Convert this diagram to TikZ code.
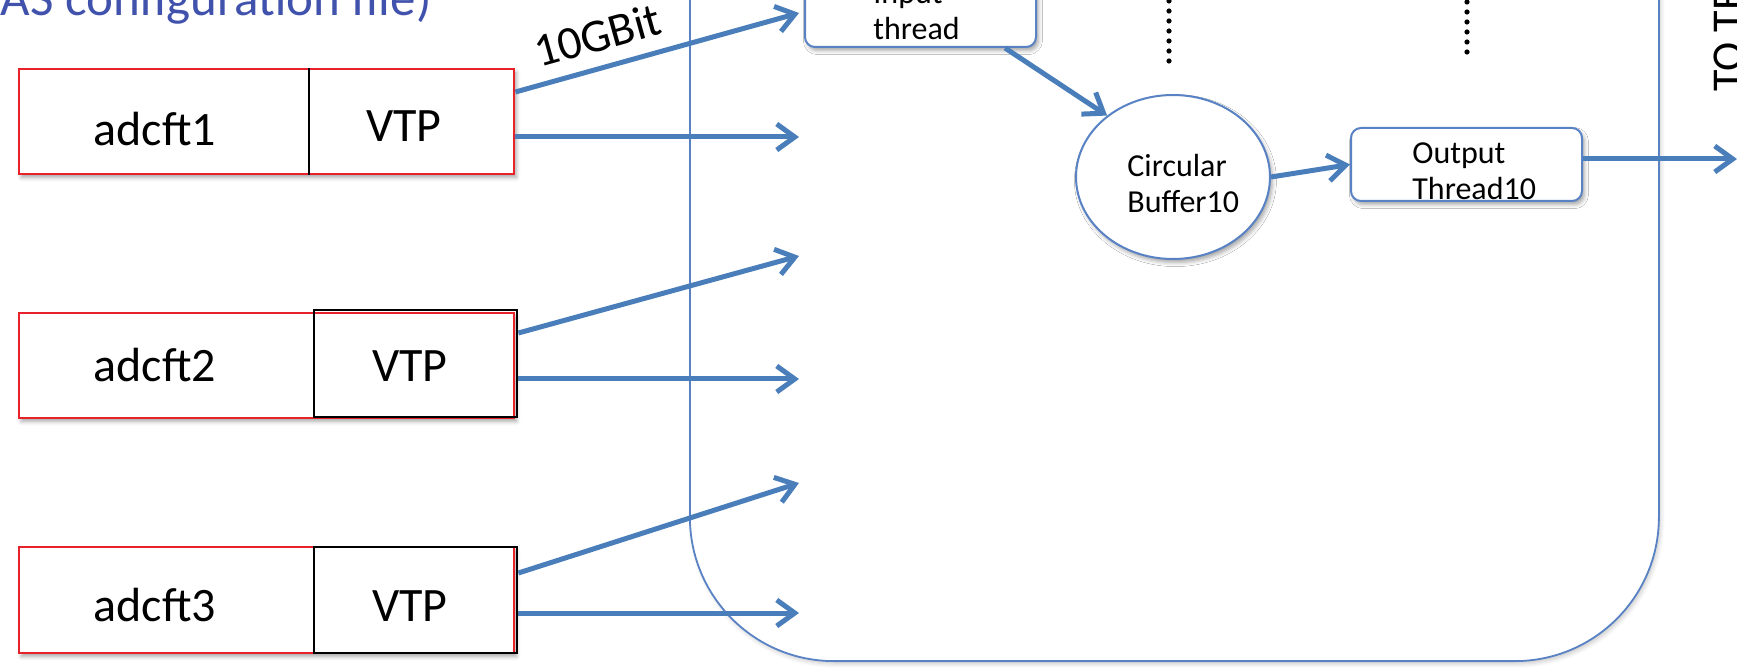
\documentclass[tikz,border=0pt]{standalone}
\usepackage{fontspec}
\setmainfont{Carlito}
\usetikzlibrary{arrows.meta,shapes.geometric,shadows.blur}

\definecolor{flow}{RGB}{74,126,187}
\definecolor{frame}{RGB}{88,130,196}
\definecolor{cfgblue}{RGB}{64,82,172}
\definecolor{boardred}{RGB}{232,34,42}

\begin{document}
\begin{tikzpicture}[x=0.5pt,y=-0.5pt,
  soft/.style={blur shadow={shadow xshift=1.2pt,shadow yshift=-1.8pt,
      shadow blur radius=2pt,shadow opacity=35}},
  flowarrow/.style={draw=flow,line width=2.5pt,
      -{Straight Barb[length=9pt,width=13pt]}},
  board/.style={draw=boardred,line width=0.9pt,fill=white,soft,
      minimum width=247.5pt,anchor=north west,inner sep=0pt},
  vtpbox/.style={line width=1.2pt,minimum width=101.5pt,
      anchor=north west,inner sep=0pt},
  thread/.style={draw=frame,line width=1pt,fill=white,soft,
      rounded corners=5pt,minimum width=115.5pt,inner sep=0pt},
  big/.style={font=\fontsize{24}{28}\selectfont,inner sep=0pt},
  small/.style={font=\fontsize{16}{18}\selectfont,align=left,inner sep=0pt},
  dotline/.style={line width=2.6pt,line cap=round,dash pattern=on 0pt off 5pt}
]
\useasboundingbox (0,0) rectangle (1737,668);
\clip (0,0) rectangle (1737,668);

% receiving host
\node[draw=frame,line width=0.9pt,rounded corners=72pt,fill=white,
      blur shadow={shadow xshift=1pt,shadow yshift=-1.5pt,
      shadow blur radius=2pt,shadow opacity=20},
      minimum width=484.5pt,minimum height=481pt,inner sep=0pt,
      anchor=south west] (host) at (689,662) {};

% configuration caption
\node[anchor=base east,text=cfgblue,font=\fontsize{25.5}{30}\selectfont,
      inner sep=0pt] (cfg) at (432,16) {AS configuration file)};

% front-end boards
\node[board,minimum height=52.5pt] (adc1) at (18,68) {};
\node[vtpbox,minimum width=102pt,minimum height=52.5pt] (vtp1) at (309,68) {};
\draw[black,line width=1pt] (vtp1.north west) -- (vtp1.south west);

\node[board,minimum height=52.5pt] (adc2) at (18,312) {};
\node[vtpbox,draw=black,minimum height=53.5pt] (vtp2) at (313,309) {};

\node[board,minimum height=53pt] (adc3) at (18,546) {};
\node[vtpbox,draw=black,minimum height=53pt] (vtp3) at (313,546) {};

\node[big,anchor=base] (l1) at (155,146) {adcft1};
\node[big,anchor=base] (p1) at (404,142) {VTP};
\node[big,anchor=base] (l2) at (155,382) {adcft2};
\node[big,anchor=base] (p2) at (410,382) {VTP};
\node[big,anchor=base] (l3) at (155,621) {adcft3};
\node[big,anchor=base] (p3) at (410,621) {VTP};

% arrow tips inside the host
\coordinate (t1u) at (799,13);
\coordinate (t1d) at (799,137);
\coordinate (t2u) at (799,256);
\coordinate (t2d) at (799,379);
\coordinate (t3u) at (799,483);
\coordinate (t3d) at (799,613);

\draw[flowarrow] (vtp1.east |- 0,92) -- (t1u)
  node[pos=0.32,above=5pt,sloped,font=\fontsize{23.5}{28}\selectfont,
       inner sep=2pt] (rate) {10GBit};
\draw[flowarrow] (vtp1.east |- 0,137) -- (t1d);
\draw[flowarrow] (vtp2.east |- 0,333) -- (t2u);
\draw[flowarrow] (vtp2.east |- 0,379) -- (t2d);
\draw[flowarrow] (vtp3.east |- 0,573) -- (t3u);
\draw[flowarrow] (vtp3.east |- 0,613) -- (t3d);

% processing chain
\node[thread,minimum height=37.5pt,anchor=south west] (inp) at (804,48) {};
\node[small,anchor=west] (inplbl) at (873,11) {Input\\thread};

\node[draw=frame,line width=1pt,ellipse,fill=white,soft,
      minimum width=97pt,minimum height=82pt,inner sep=0pt] (buf) at (1173,177) {};
\node[small,anchor=west] (buflbl) at (1127,184) {Circular\\Buffer10};

\node[thread,minimum height=36.5pt,anchor=north west] (outth) at (1350,127) {};
\node[small,anchor=west] (outlbl) at (1412,171) {Output\\Thread10};

\coordinate (sink) at (1737,159);
\draw[flowarrow] ([xshift=-16pt]inp.south east) -- (buf.137);
\draw[flowarrow] (buf.east) -- (outth.west);
\draw[flowarrow] (outth.east |- sink) -- (sink);

% further parallel chains
\draw[dotline] (1169,61) -- (1169,-8);
\draw[dotline] (1467,52) -- (1467,-8);

% destination label
\node[rotate=90,anchor=base west,font=\fontsize{22}{26}\selectfont,
      inner sep=0pt] (dest) at (1742,92) {TO TE};
\end{tikzpicture}
\end{document}
